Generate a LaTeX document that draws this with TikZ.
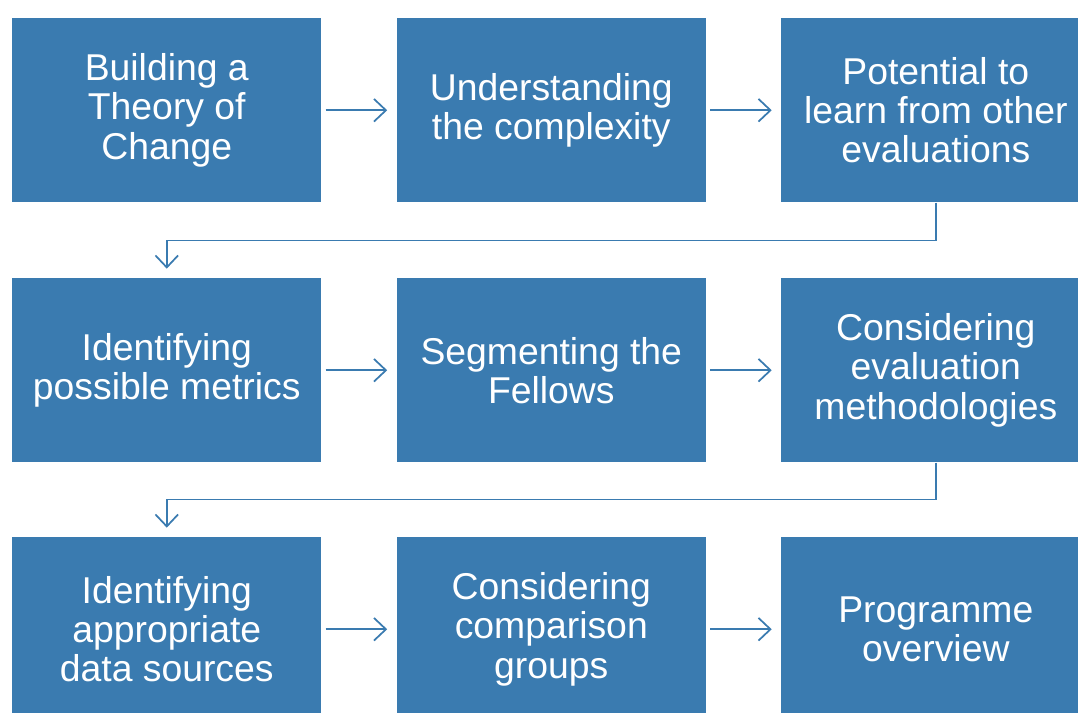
\documentclass[tikz,border=0pt]{standalone}
\usepackage{fontspec}
\setmainfont{Liberation Sans}
\usetikzlibrary{arrows.meta, positioning}
\definecolor{boxblue}{RGB}{58,123,176}

\begin{document}
\begin{tikzpicture}[
    x=0.75pt, y=-0.75pt,
    node distance=56.25pt and 56.25pt,
    stepbox/.style={
        rectangle, fill=boxblue, text=white, inner sep=0pt,
        minimum width=231.75pt, minimum height=138pt,
        align=center, font=\fontsize{28}{29.4}\selectfont
    },
    flow/.style={draw=boxblue, line width=1.3pt,
        -{Straight Barb[length=9pt,width=17pt,line width=1.3pt]}},
]
\useasboundingbox (0,0) rectangle (1078,713);
% first row
\node[stepbox, anchor=north west] (theory) at (12,18) {Building a\\Theory of\\Change};
\node[stepbox, right=of theory] (complex) {Understanding\\the complexity};
\node[stepbox, right=of complex] (learn) {Potential to\\learn from other\\evaluations};
% second row
\node[stepbox, anchor=north west] (metrics) at (12,278) {Identifying\\possible metrics};
\node[stepbox, right=of metrics] (fellows) {Segmenting the\\Fellows};
\node[stepbox, right=of fellows] (method) {Considering\\evaluation\\methodologies};
% third row
\node[stepbox, anchor=north west] (sources) at (12,537) {Identifying\\appropriate\\data sources};
\node[stepbox, right=of sources] (groups) {Considering\\comparison\\groups};
\node[stepbox, right=of groups] (overview) {Programme\\overview};

\draw[flow] ([xshift=3pt]theory.east) -- ([xshift=-7pt]complex.west);
\draw[flow] ([xshift=3pt]complex.east) -- ([xshift=-7pt]learn.west);
\draw[flow] ([xshift=3pt]metrics.east) -- ([xshift=-7pt]fellows.west);
\draw[flow] ([xshift=3pt]fellows.east) -- ([xshift=-7pt]method.west);
\draw[flow] ([xshift=3pt]sources.east) -- ([xshift=-7pt]groups.west);
\draw[flow] ([xshift=3pt]groups.east) -- ([xshift=-7pt]overview.west);

\draw[flow] (learn.south) -- ++(0,38) -| ([yshift=7pt]metrics.north);
\draw[flow] (method.south) -- ++(0,37) -| ([yshift=7pt]sources.north);
\end{tikzpicture}
\end{document}
